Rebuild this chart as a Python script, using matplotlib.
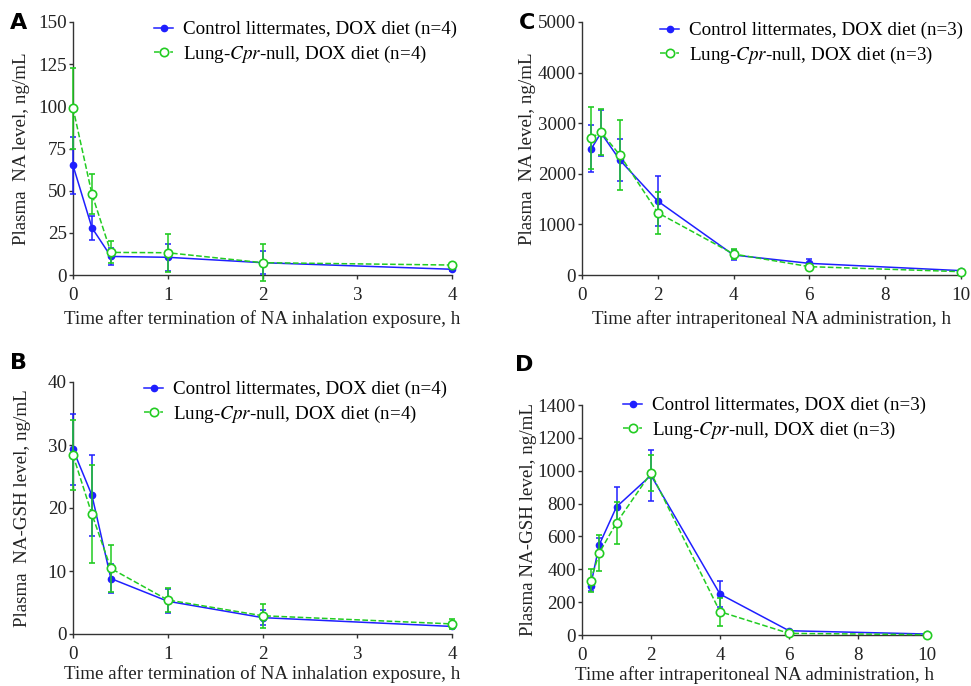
import numpy as np
import matplotlib.pyplot as plt
from matplotlib.lines import Line2D

plt.rcParams['font.family'] = ['Liberation Serif', 'DejaVu Serif']
plt.rcParams['mathtext.fontset'] = 'stix'

# ── Data ─────────────────────────────────────────────────────────────────
# Panels A/B: inhalation exposure
t_inh = [0, 0.2, 0.4, 1, 2, 4]
a_ctrl = [65, 28, 11, 10.5, 7.3, 3.4]
a_ctrl_err = [17, 7, 5, 8, 7, 1]
a_null = [99, 48, 13.4, 13.2, 7.3, 5.9]
a_null_err = [24, 11.6, 6.5, 11.3, 11, 1]

b_ctrl = [29.3, 22.0, 8.8, 5.2, 2.6, 1.2]
b_ctrl_err = [5.6, 6.4, 2.3, 1.9, 1.2, 0.3]
b_null = [28.4, 19.0, 10.4, 5.4, 2.9, 1.6]
b_null_err = [5.5, 7.8, 3.8, 1.9, 1.9, 0.8]

# Panels C/D: intraperitoneal administration
t_ip = [0.25, 0.5, 1, 2, 4, 6, 10]
c_ctrl = [2500, 2810, 2270, 1460, 395, 230, 86]
c_ctrl_err = [460, 450, 410, 500, 100, 80, 20]
c_null = [2710, 2825, 2370, 1230, 415, 165, 66]
c_null_err = [610, 450, 690, 410, 100, 50, 20]

d_ctrl = [300, 549, 780, 972, 249, 26, 6]
d_ctrl_err = [35, 40, 120, 155, 77, 5, 2]
d_null = [330, 500, 683, 987, 142, 10, 2]
d_null_err = [69, 108, 127, 110, 85, 4, 2]

BLUE = '#1f1fff'
GREEN = '#22cc22'
FS = 13.7

fig = plt.figure(figsize=(9.71, 6.86), dpi=100)


def add_ax(x0, y0, x1, y1):
    # pixel box (top-left origin) -> figure fraction
    return fig.add_axes([x0 / 971, 1 - y1 / 686, (x1 - x0) / 971, (y1 - y0) / 686])


def panel(ax, t, ctrl, ctrl_err, null, null_err, n, xlim, ylim, xticks, yticks,
          xlabel, ylabel, ylab_x, xlab_pad, leg_xy, letter, letter_xy):
    ctrl_style = dict(color=BLUE, lw=1.1, marker='o', ms=4.5, mfc=BLUE, mec=BLUE)
    null_style = dict(color=GREEN, lw=1.1, ls='--', marker='o', ms=6,
                      mfc='white', mec=GREEN, mew=1.2)
    ax.errorbar(t, ctrl, yerr=ctrl_err, ecolor=BLUE, elinewidth=1.1, capsize=2.5,
                capthick=1.1, clip_on=False, zorder=3, **ctrl_style)
    ax.errorbar(t, null, yerr=null_err, ecolor=GREEN, elinewidth=1.1, capsize=2.5,
                capthick=1.1, clip_on=False, zorder=4, **null_style)
    ax.set_xlim(*xlim)
    ax.set_ylim(*ylim)
    ax.set_xticks(xticks)
    ax.set_yticks(yticks)
    for s in ['top', 'right']:
        ax.spines[s].set_visible(False)
    for s in ['left', 'bottom']:
        ax.spines[s].set_color('#333333')
        ax.spines[s].set_linewidth(1.0)
    ax.tick_params(length=3, width=1, color='#333333', labelsize=FS,
                   labelcolor='#222222')
    ax.tick_params(axis='x', pad=5.5)
    ax.tick_params(axis='y', pad=1.5)
    ax.set_xlabel(xlabel, fontsize=FS, color='#222222', labelpad=xlab_pad)
    ax.set_ylabel(ylabel, fontsize=FS, color='#222222')
    ax.yaxis.set_label_coords(ylab_x, 0.5)
    handles = [Line2D([], [], **ctrl_style), Line2D([], [], **null_style)]
    labels = [f'Control littermates, DOX diet (n={n})',
              f'Lung-$\\it{{Cpr}}$-null, DOX diet (n={n})']
    ax.legend(handles, labels, loc='upper left',
              bbox_to_anchor=(leg_xy[0] / 971, 1 - leg_xy[1] / 686),
              bbox_transform=fig.transFigure, frameon=False,
              borderpad=0, borderaxespad=0, handlelength=1.0, handletextpad=0.5,
              labelspacing=0.3, prop={'size': FS})
    fig.text(letter_xy[0] / 971, 1 - letter_xy[1] / 686, letter, family='DejaVu Sans',
             fontsize=16, fontweight='bold', ha='center', va='center')


axA = add_ax(73, 22, 452, 275)
panel(axA, t_inh, a_ctrl, a_ctrl_err, a_null, a_null_err, 4,
      (0, 4), (0, 150), [0, 1, 2, 3, 4], [0, 25, 50, 75, 100, 125, 150],
      'Time after termination of NA inhalation exposure, h',
      'Plasma  NA level, ng/mL', -0.113, 4.5, (154, 21), 'A', (19, 23))

axC = add_ax(582, 22, 961, 275)
panel(axC, t_ip, c_ctrl, c_ctrl_err, c_null, c_null_err, 3,
      (0, 10), (0, 5000), [0, 2, 4, 6, 8, 10], [0, 1000, 2000, 3000, 4000, 5000],
      'Time after intraperitoneal NA administration, h',
      'Plasma  NA level, ng/mL', -0.121, 4.5, (660, 22), 'C', (527, 23))

axB = add_ax(73, 382, 452, 634)
panel(axB, t_inh, b_ctrl, b_ctrl_err, b_null, b_null_err, 4,
      (0, 4), (0, 40), [0, 1, 2, 3, 4], [0, 10, 20, 30, 40],
      'Time after termination of NA inhalation exposure, h',
      'Plasma  NA-GSH level, ng/mL', -0.111, 2, (144, 381), 'B', (19, 363))

axD = add_ax(582, 405, 927, 635)
panel(axD, t_ip, d_ctrl, d_ctrl_err, d_null, d_null_err, 3,
      (0, 10), (0, 1400), [0, 2, 4, 6, 8, 10], [0, 200, 400, 600, 800, 1000, 1200, 1400],
      'Time after intraperitoneal NA administration, h',
      'Plasma NA-GSH level, ng/mL', -0.131, 1.5, (623, 397), 'D', (524, 365))

fig.savefig('out.png', dpi=100)
